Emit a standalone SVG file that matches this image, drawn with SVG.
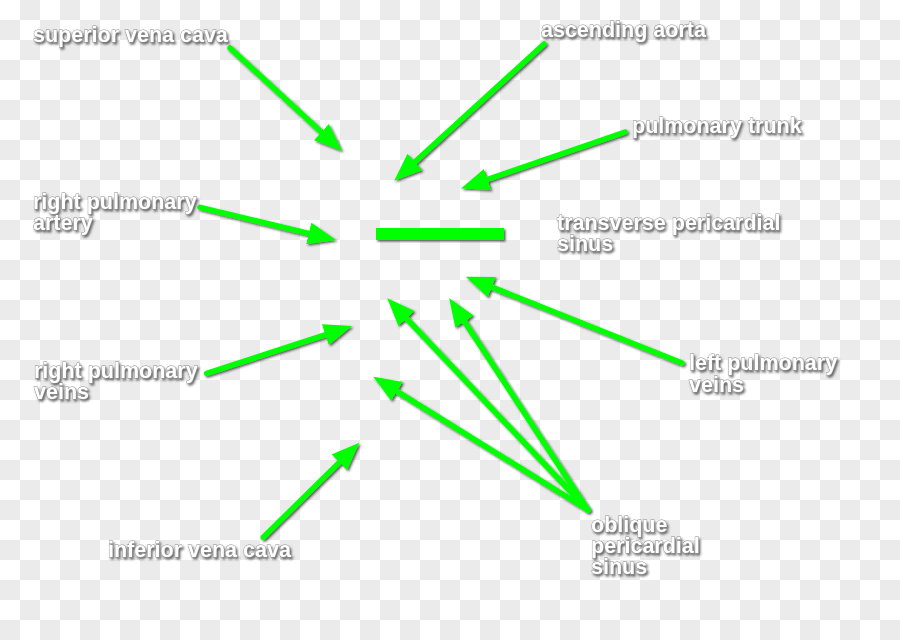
<svg xmlns="http://www.w3.org/2000/svg" width="900" height="640" viewBox="0 0 900 640">
<defs>
<pattern id="chk" width="40" height="40" patternUnits="userSpaceOnUse">
<rect width="40" height="40" fill="#ffffff"/>
<rect x="20" y="0" width="20" height="20" fill="#ebebeb"/>
<rect x="0" y="20" width="20" height="20" fill="#ebebeb"/>
</pattern>
<filter id="sh" x="-20%" y="-20%" width="140%" height="140%">
<feDropShadow dx="1.5" dy="1.5" stdDeviation="0.8" flood-color="#222" flood-opacity="0.75"/>
</filter>
<filter id="tsh" x="-10%" y="-30%" width="120%" height="160%">
<feDropShadow dx="1.5" dy="2" stdDeviation="1" flood-color="#222" flood-opacity="0.7"/>
</filter>
<marker id="ah" viewBox="0 -11 28 22" refX="2" refY="0" markerWidth="28" markerHeight="22" markerUnits="userSpaceOnUse" orient="auto">
<path d="M0,-11 L28,0 L0,11 Z" fill="#00ff00"/>
</marker>
</defs>
<style>
.lbl{font-family:"Liberation Sans",Arial,sans-serif;font-weight:bold;font-size:21.5px;fill:#ffffff;stroke:#8a8a8a;stroke-width:0.8px;paint-order:stroke;filter:url(#tsh)}
.ar{stroke:#00ff00;stroke-width:5.5;fill:none;stroke-linecap:round;marker-end:url(#ah)}
</style>
<rect width="900" height="640" fill="url(#chk)"/>
<g id="connectors" filter="url(#sh)">
<line class="ar" x1="230" y1="48" x2="322.9" y2="133.4"/>
<line class="ar" x1="544" y1="44" x2="413.4" y2="163.3"/>
<line class="ar" x1="625" y1="132" x2="485.6" y2="180"/>
<line class="ar" x1="200" y1="207.3" x2="310.7" y2="233.9"/>
<line class="ar" x1="682" y1="363" x2="490.1" y2="286.4"/>
<line class="ar" x1="206.7" y1="373.3" x2="327.3" y2="334.1"/>
<line class="ar" x1="263.3" y1="537.3" x2="340.8" y2="460.9"/>
<line class="ar" x1="588" y1="510" x2="405.2" y2="317.2"/>
<line class="ar" x1="588" y1="510" x2="463.5" y2="320"/>
<line class="ar" x1="588" y1="510" x2="395.4" y2="390.4"/>
</g>
<g id="transverse-bar" filter="url(#sh)">
<rect x="376" y="228" width="128" height="12" fill="#00ff00"/>
</g>
<g id="superior-vena-cava"><text class="lbl" x="33" y="42">superior vena cava</text></g>
<g id="ascending-aorta"><text class="lbl" x="541" y="37">ascending aorta</text></g>
<g id="pulmonary-trunk"><text class="lbl" x="632" y="133">pulmonary trunk</text></g>
<g id="right-pulmonary-artery"><text class="lbl" x="33" y="209">right pulmonary</text><text class="lbl" x="33" y="230">artery</text></g>
<g id="transverse-pericardial-sinus"><text class="lbl" x="557" y="230">transverse pericardial</text><text class="lbl" x="557" y="251">sinus</text></g>
<g id="right-pulmonary-veins"><text class="lbl" x="34" y="378">right pulmonary</text><text class="lbl" x="34" y="399">veins</text></g>
<g id="left-pulmonary-veins"><text class="lbl" x="689" y="370">left pulmonary</text><text class="lbl" x="689" y="392">veins</text></g>
<g id="inferior-vena-cava"><text class="lbl" x="108" y="557">inferior vena cava</text></g>
<g id="oblique-pericardial-sinus"><text class="lbl" x="591" y="532">oblique</text><text class="lbl" x="591" y="553">pericardial</text><text class="lbl" x="591" y="574">sinus</text></g>
</svg>
